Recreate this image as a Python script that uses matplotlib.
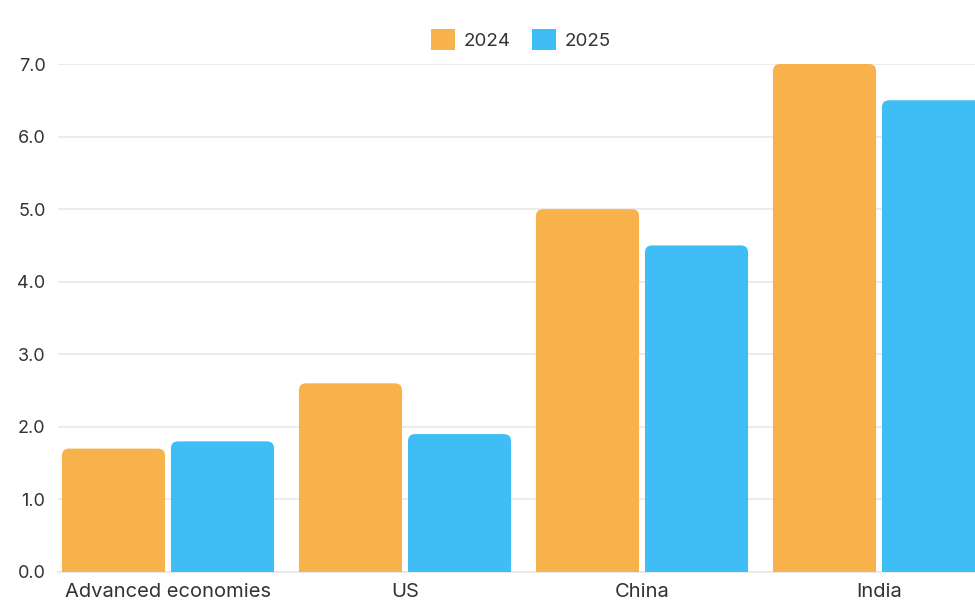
import matplotlib
matplotlib.use("Agg")
import matplotlib.pyplot as plt
from matplotlib.patches import FancyBboxPatch
import numpy as np

categories = ["Advanced economies", "US", "China", "India"]
series_names = ["2024", "2025"]
values_2024 = [1.7, 2.6, 5.0, 7.0]
values_2025 = [1.8, 1.9, 4.5, 6.5]
yticks = [0, 1, 2, 3, 4, 5, 6, 7]

colors = ["#F8B24C", "#3FBEF6"]

plt.rcParams['font.family'] = ['Inter', 'DejaVu Sans']

fig = plt.figure(figsize=(9.75, 6.01), dpi=100)
ax = fig.add_axes([0.0595, 0.0483, 0.9405, 0.8452])

x = np.arange(len(categories))
w = 0.435
off = 0.23
b1 = ax.bar(x - off, values_2024, w, color=colors[0], label=series_names[0], zorder=3)
b2 = ax.bar(x + off, values_2025, w, color=colors[1], label=series_names[1], zorder=3)

ax.set_xlim(-0.464, 3.405)
ax.set_ylim(0, 7)

# rounded top corners
xpp = (3.405 + 0.464) / (975 * 0.9405)
ypp = 7 / (601 * 0.8452)
asp = ypp / xpp
for bars, c in ((b1, colors[0]), (b2, colors[1])):
    for r in bars:
        r.set_visible(False)
        bx, by = r.get_x(), r.get_y()
        bw, bh = r.get_width(), r.get_height()
        p = FancyBboxPatch((bx, by), bw, bh, boxstyle="round,pad=0,rounding_size=0.03",
                           mutation_aspect=asp, facecolor=c, edgecolor='none', zorder=3)
        ax.add_patch(p)
        ax.bar(bx + bw / 2, bh * 0.5, bw, color=c, zorder=3)

ax.set_yticks(yticks)
ax.set_yticklabels([f"{v:.1f}" for v in yticks])
ax.set_xticks(x)
ax.set_xticklabels(categories)
ax.tick_params(axis='both', length=0, colors='#333333')
ax.tick_params(axis='y', pad=9, labelsize=13)
ax.tick_params(axis='x', pad=8, labelsize=14.5)

ax.grid(axis='y', color='#e9e9e9', linewidth=1.2, zorder=0)
for s in ['top', 'right', 'left']:
    ax.spines[s].set_visible(False)
ax.spines['bottom'].set_color('#e6e6e6')
ax.spines['bottom'].set_linewidth(1.2)

ax.legend(handles=[b1[0], b2[0]], labels=series_names, loc='center',
          bbox_to_anchor=(0.505, 1.048), ncol=2, frameon=False, fontsize=13.5,
          handlelength=1.28, handleheight=1.28, handletextpad=0.43, columnspacing=1.17,
          labelcolor='#333333')
leg = ax.get_legend()
for h, c in zip(leg.legend_handles, colors):
    h.set_visible(True)
    h.set_facecolor(c)

fig.savefig("out.png", dpi=100)
